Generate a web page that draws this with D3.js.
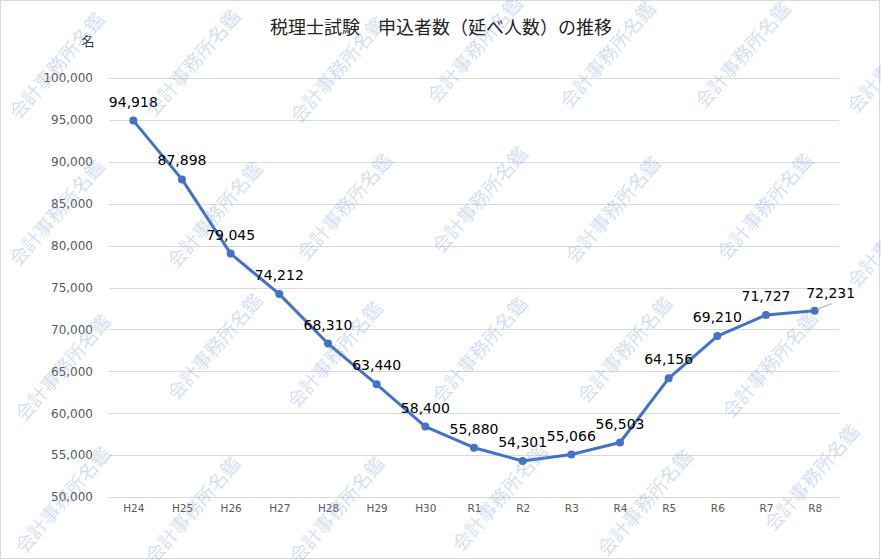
<!DOCTYPE html>
<html>
<head>
<meta charset="utf-8">
<script src="https://cdnjs.cloudflare.com/ajax/libs/d3/7.8.5/d3.min.js"></script>
<style>
body{margin:0;background:#fff;}
svg{display:block;}
</style>
</head>
<body>
<div id="chart"></div>
<script>
// 税理士試験 申込者数（延べ人数）
var years = ["H24","H25","H26","H27","H28","H29","H30","R1","R2","R3","R4","R5","R6","R7","R8"];
var applicants = [94918,87898,79045,74212,68310,63440,58400,55880,54301,55066,56503,64156,69210,71727,72231];
var yTicks = [50000,55000,60000,65000,70000,75000,80000,85000,90000,95000,100000];
var chartTitle = "税理士試験　申込者数（延べ人数）の推移";
var unitLabel = "名";
var watermarkText = "会計事務所名鑑";
var watermarkPos = [[57,66],[193,63],[338,70],[475,50],[608,55],[743,55],[895,60],
    [57,213],[215,215],[345,207],[480,200],[613,210],[765,207],[895,235],
    [63,368],[215,347],[335,355],[480,350],[625,350],[770,365],
    [63,500],[193,510],[337,510],[500,498],[645,503],[812,478]];

var width = 881, height = 560;
var plotLeft = 109, plotRight = 839, plotTop = 78, plotBottom = 497;
var lineColor = "#4472c4";

var svg = d3.select("#chart").append("svg")
    .attr("width", width)
    .attr("height", height);

svg.append("rect")
    .attr("x", 0.5).attr("y", 0.5)
    .attr("width", width - 2).attr("height", height - 2)
    .attr("fill", "#fff")
    .attr("stroke", "#d9d9d9");

var x = d3.scalePoint()
    .domain(years)
    .range([plotLeft, plotRight])
    .padding(0.5);

var y = d3.scaleLinear()
    .domain([50000, 100000])
    .range([plotBottom, plotTop]);

var fmt = d3.format(",");

// gridlines
svg.append("g")
    .selectAll("line")
    .data(yTicks)
    .enter()
    .append("line")
    .attr("x1", plotLeft)
    .attr("x2", plotRight)
    .attr("y1", function(d){ return Math.round(y(d)) + 0.5; })
    .attr("y2", function(d){ return Math.round(y(d)) + 0.5; })
    .attr("stroke", "#d9d9d9")
    .attr("stroke-width", 1);

// y axis labels
var yAxis = d3.axisLeft(y).tickValues(yTicks).tickFormat(fmt).tickSize(0).tickPadding(0);
var gy = svg.append("g")
    .attr("transform", "translate(93,0)")
    .call(yAxis);
gy.select(".domain").remove();
gy.selectAll("text")
    .attr("font-family", "DejaVu Sans, Verdana, sans-serif")
    .attr("font-size", "12px")
    .attr("fill", "#595959");

// x axis labels
var xAxis = d3.axisBottom(x).tickSize(0).tickPadding(0);
var gx = svg.append("g")
    .attr("transform", "translate(0,505)")
    .call(xAxis);
gx.select(".domain").remove();
gx.selectAll("text")
    .attr("font-family", "DejaVu Sans, Verdana, sans-serif")
    .attr("font-size", "10.5px")
    .attr("fill", "#595959");

// title & unit
svg.append("text")
    .text(chartTitle)
    .attr("x", 441)
    .attr("y", 34)
    .attr("text-anchor", "middle")
    .attr("font-family", "Noto Sans CJK JP, sans-serif")
    .attr("font-size", "18px")
    .attr("fill", "#222");
svg.append("text")
    .text(unitLabel)
    .attr("x", 88)
    .attr("y", 46)
    .attr("text-anchor", "middle")
    .attr("font-family", "Noto Sans CJK JP, sans-serif")
    .attr("font-size", "13px")
    .attr("fill", "#333");

// line
var line = d3.line()
    .x(function(d, i){ return x(years[i]); })
    .y(function(d){ return y(d); });

svg.append("path")
    .datum(applicants)
    .attr("d", line)
    .attr("fill", "none")
    .attr("stroke", lineColor)
    .attr("stroke-width", 3)
    .attr("stroke-linejoin", "round");

svg.selectAll(".marker")
    .data(applicants)
    .enter()
    .append("circle")
    .attr("class", "marker")
    .attr("cx", function(d, i){ return x(years[i]); })
    .attr("cy", function(d){ return y(d); })
    .attr("r", 4)
    .attr("fill", lineColor);

// leader line for last label
var last = applicants.length - 1;
svg.append("line")
    .attr("x1", x(years[last]) + 2)
    .attr("y1", y(applicants[last]) - 1.5)
    .attr("x2", x(years[last]) + 17)
    .attr("y2", y(applicants[last]) - 7)
    .attr("stroke", "#a6a6a6")
    .attr("stroke-width", 1);

// data labels
svg.selectAll(".dlabel")
    .data(applicants)
    .enter()
    .append("text")
    .attr("class", "dlabel")
    .text(function(d){ return fmt(d); })
    .attr("x", function(d, i){ return x(years[i]) + (i === last ? 16 : 0); })
    .attr("y", function(d, i){ return y(d) - (i === last ? 13 : 14); })
    .attr("text-anchor", "middle")
    .attr("font-family", "DejaVu Sans, Verdana, sans-serif")
    .attr("font-size", "14px")
    .attr("fill", "#000");

// watermark
svg.append("g")
    .selectAll("text")
    .data(watermarkPos)
    .enter()
    .append("text")
    .text(watermarkText)
    .attr("transform", function(d){ return "translate(" + d[0] + "," + d[1] + ") rotate(-49)"; })
    .attr("text-anchor", "middle")
    .attr("dy", "0.35em")
    .attr("font-family", "Noto Sans CJK JP, sans-serif")
    .attr("font-size", "19px")
    .attr("fill", "rgb(120,150,220)")
    .attr("fill-opacity", 0.32);
</script>
</body>
</html>
